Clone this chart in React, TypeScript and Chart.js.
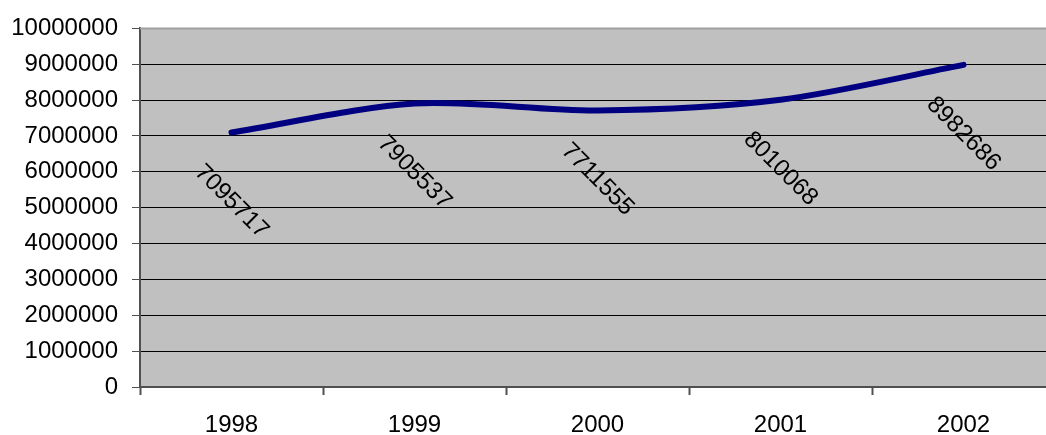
import React, { useEffect, useRef } from "react";
import { Chart, registerables } from "chart.js";

Chart.register(...registerables);

const categories = ["1998", "1999", "2000", "2001", "2002"];
const values = [7095717, 7905537, 7711555, 8010068, 8982686];
const yMin = 0;
const yMax = 10000000;
const yStep = 1000000;

const FONT = "'Liberation Sans', Arial, sans-serif";

const bgPlugin = {
  id: "plotBg",
  beforeDraw(chart: any) {
    const { ctx, chartArea } = chart;
    ctx.save();
    ctx.fillStyle = "#c0c0c0";
    ctx.fillRect(chartArea.left, chartArea.top, chartArea.right - chartArea.left, chartArea.bottom - chartArea.top);
    ctx.restore();
  },
  afterDraw(chart: any) {
    const { ctx, chartArea } = chart;
    ctx.save();
    ctx.strokeStyle = "#a0a0a0";
    ctx.lineWidth = 2;
    ctx.beginPath();
    ctx.moveTo(chartArea.left, chartArea.top);
    ctx.lineTo(chartArea.right, chartArea.top);
    ctx.stroke();
    ctx.restore();
  },
};

const labelPlugin = {
  id: "rotLabels",
  afterDatasetsDraw(chart: any) {
    const { ctx } = chart;
    const meta = chart.getDatasetMeta(0);
    const data = chart.data.datasets[0].data as number[];
    ctx.save();
    ctx.fillStyle = "#000";
    ctx.font = `24px ${FONT}`;
    ctx.textAlign = "center";
    ctx.textBaseline = "middle";
    meta.data.forEach((pt: any, i: number) => {
      ctx.save();
      ctx.translate(pt.x, pt.y + 69);
      ctx.rotate(Math.PI / 4);
      ctx.fillText(String(data[i]), 0, 0);
      ctx.restore();
    });
    ctx.restore();
  },
};

export default function App() {
  const ref = useRef<HTMLCanvasElement>(null);
  useEffect(() => {
    if (!ref.current) return;
    Chart.defaults.font.family = FONT;
    const chart = new Chart(ref.current, {
      type: "line",
      data: {
        labels: categories,
        datasets: [
          {
            data: values,
            borderColor: "#000080",
            borderWidth: 6,
            borderCapStyle: "round",
            borderJoinStyle: "round",
            pointRadius: 0,
            tension: 0.3,
            fill: false,
          },
        ],
      },
      options: {
        animation: false,
        responsive: false,
        maintainAspectRatio: false,
        layout: { padding: { top: 27, right: 0, bottom: 0, left: 0 } },
        plugins: { legend: { display: false }, tooltip: { enabled: false } },
        scales: {
          x: {
            offset: true,
            grid: {
              offset: true,
              drawOnChartArea: false,
              drawTicks: true,
              tickLength: 8,
              tickColor: "#505050",
              tickWidth: 2,
            },
            border: { color: "#505050", width: 2 },
            ticks: { color: "#000", font: { size: 24, family: FONT }, padding: 16, maxRotation: 0, autoSkip: false },
            afterFit(scale: any) {
              scale.height = 48;
            },
          },
          y: {
            min: yMin,
            max: yMax,
            grid: {
              color: (c: any) => (c.tick && c.tick.value === yMax ? "#a0a0a0" : "#000"),
              lineWidth: 1,
              drawTicks: true,
              tickLength: 8,
              tickColor: "#505050",
              tickWidth: 1,
            },
            border: { color: "#505050", width: 2 },
            ticks: {
              stepSize: yStep,
              color: "#000",
              font: { size: 24, family: FONT },
              padding: 14,
              callback: (v: any) => String(v),
            },
            afterFit(scale: any) {
              scale.width = 140;
            },
          },
        },
      },
      plugins: [bgPlugin, labelPlugin],
    });
    return () => chart.destroy();
  }, []);
  return (
    <div style={{ position: "fixed", left: 0, top: 0, width: 1046, height: 435, overflow: "hidden", background: "#fff" }}>
      <canvas ref={ref} width={1055} height={435} style={{ display: "block", width: 1055, height: 435 }} />
    </div>
  );
}
